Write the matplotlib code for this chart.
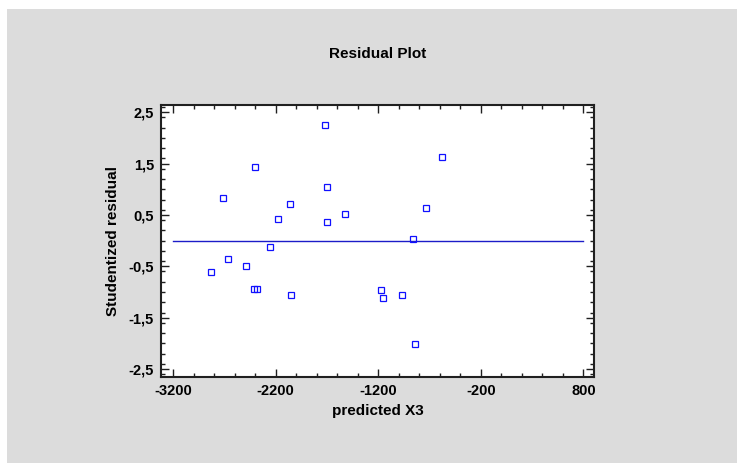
import matplotlib
matplotlib.use("Agg")
import matplotlib.pyplot as plt
from matplotlib.patches import Rectangle
from matplotlib.ticker import FixedLocator, MultipleLocator, FuncFormatter

plt.rcParams['font.family'] = ['Liberation Sans', 'DejaVu Sans']

# predicted X3 vs studentized residual
predicted = [-1723, -2398, -1700, -2713, -2057, -2181, -1700, -1519, -2252,
             -2668, -2489, -2834, -574, -732, -856, -2408, -2382, -2050,
             -1171, -1158, -969, -846]
residual = [2.26, 1.43, 1.05, 0.83, 0.71, 0.42, 0.37, 0.51, -0.12,
            -0.35, -0.50, -0.61, 1.63, 0.64, 0.035, -0.95, -0.95, -1.06,
            -0.97, -1.11, -1.06, -2.01]
x_ticks = [-3200, -2200, -1200, -200, 800]
y_ticks = [2.5, 1.5, 0.5, -0.5, -1.5, -2.5]

fig = plt.figure(figsize=(7.37, 4.63), dpi=100, facecolor='white')
# grey panel behind everything
fig.patches.append(Rectangle((7 / 737, 0), 1, 1 - 9 / 463, transform=fig.transFigure,
                             facecolor='#dcdcdc', edgecolor='none', zorder=-10))

ax = fig.add_axes([0.2185, 0.1851, 0.5875, 0.588])
ax.set_facecolor('white')

ax.plot([x_ticks[0], x_ticks[-1]], [0, 0], color='#1c1cc8', lw=1.0, zorder=2)
ax.plot(predicted, residual, ls='none', marker='s', ms=4.2, mfc='none',
        mec='#1010ff', mew=0.9, zorder=3)

ax.set_xlim(-3317, 904)
ax.set_ylim(-2.66, 2.64)

ax.xaxis.set_major_locator(FixedLocator(x_ticks))
ax.xaxis.set_minor_locator(MultipleLocator(200))
ax.yaxis.set_major_locator(FixedLocator(y_ticks))
ax.yaxis.set_minor_locator(MultipleLocator(0.2))
ax.xaxis.set_major_formatter(FuncFormatter(lambda v, p: '%d' % v))
ax.yaxis.set_major_formatter(FuncFormatter(lambda v, p: ('%.1f' % v).replace('.', ',')))

ax.tick_params(which='both', direction='in', top=True, right=True,
               color='#202020', width=1.0)
ax.tick_params(which='major', length=6, labelsize=10.5, pad=5)
ax.tick_params(which='minor', length=3)
for lab in ax.get_xticklabels() + ax.get_yticklabels():
    lab.set_fontweight('bold')
for side in ax.spines.values():
    side.set_linewidth(1.5)
    side.set_color('#202020')

ax.set_title('Residual Plot', fontsize=11, fontweight='bold', pad=34)
ax.set_xlabel('predicted X3', fontsize=11, fontweight='bold', labelpad=4)
ax.set_ylabel('Studentized residual', fontsize=11, fontweight='bold', labelpad=6)

fig.savefig('out.png', dpi=100, facecolor=fig.get_facecolor())
